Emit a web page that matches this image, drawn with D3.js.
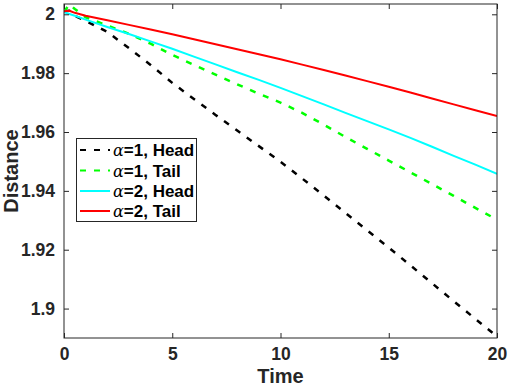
<!DOCTYPE html>
<html>
<head>
<meta charset="utf-8">
<script src="https://cdn.jsdelivr.net/npm/d3@7"></script>
<style>
  html, body { margin: 0; padding: 0; background: #fff; }
  svg { display: block; }
</style>
</head>
<body>
<svg id="chart" width="509" height="389"></svg>
<script>
// ---- data ----
const time = [0, 0.25, 0.5, 1, 2, 3, 4, 5, 6, 7, 8, 9, 10, 11, 12, 13, 14, 15, 16, 17, 18, 19, 20];
const headAlpha1 = [2.0010, 2.0012, 1.9995, 1.9978, 1.9940, 1.9885, 1.9828, 1.9767, 1.9712, 1.9658, 1.9605, 1.9552, 1.9499, 1.9442, 1.9384, 1.9325, 1.9266, 1.9207, 1.9147, 1.9086, 1.9025, 1.8965, 1.8905];
const tailAlpha1 = [2.0008, 2.0034, 2.0018, 1.9990, 1.9962, 1.9934, 1.9900, 1.9862, 1.9828, 1.9795, 1.9762, 1.9730, 1.9700, 1.9665, 1.9625, 1.9583, 1.9543, 1.9503, 1.9463, 1.9423, 1.9383, 1.9342, 1.9302];
const headAlpha2 = [2.0007, 2.0001, 1.9995, 1.9982, 1.9957, 1.9933, 1.9908, 1.9883, 1.9856, 1.9830, 1.9803, 1.9777, 1.9750, 1.9722, 1.9694, 1.9665, 1.9637, 1.9609, 1.9580, 1.9550, 1.9519, 1.9489, 1.9458];
const tailAlpha2 = [2.0010, 2.0012, 2.0005, 1.9995, 1.9980, 1.9964, 1.9948, 1.9932, 1.9915, 1.9898, 1.9881, 1.9864, 1.9847, 1.9829, 1.9811, 1.9792, 1.9773, 1.9754, 1.9734, 1.9714, 1.9694, 1.9674, 1.9654];
const xTicks = [0, 5, 10, 15, 20];
const yTicks = [1.9, 1.92, 1.94, 1.96, 1.98, 2];
const seriesNames = ["=1, Head", "=1, Tail", "=2, Head", "=2, Tail"];
const seriesColors = ["#000000", "#00ff00", "#00ffff", "#ff0000"];
const seriesDash = ["6,8", "6,8", null, null];
const seriesWidth = [2.5, 2.5, 2, 2];

// ---- layout ----
const svg = d3.select("#chart");
const L = 64, R = 497, T = 4, B = 338;
const x = d3.scaleLinear().domain([0, 20]).range([L, R]);
const y = d3.scaleLinear().domain([1.89, 2.0035]).range([B, T]);
const font = "'Liberation Sans', Arial, Helvetica, sans-serif";

const seriesData = [headAlpha1, tailAlpha1, headAlpha2, tailAlpha2];

svg.append("clipPath").attr("id", "clip").append("rect")
  .attr("x", L).attr("y", T).attr("width", R - L).attr("height", B - T);

const line = d3.line().x(d => x(d[0])).y(d => y(d[1]));
const plot = svg.append("g").attr("clip-path", "url(#clip)");
seriesData.forEach((vals, i) => {
  plot.append("path")
    .datum(time.map((t, k) => [t, vals[k]]))
    .attr("d", line)
    .attr("fill", "none")
    .attr("stroke", seriesColors[i])
    .attr("stroke-width", seriesWidth[i])
    .attr("stroke-dasharray", seriesDash[i])
    .attr("stroke-linejoin", "round");
});

// axes (ticks inward, box)
const tickLen = 5;
const axB = d3.axisBottom(x).tickValues(xTicks).tickSize(-tickLen).tickPadding(10).tickFormat(d3.format("d"));
const axT = d3.axisTop(x).tickValues(xTicks).tickSize(-tickLen).tickFormat("");
const axL = d3.axisLeft(y).tickValues(yTicks).tickSize(-tickLen).tickPadding(9).tickFormat(d => String(+d.toFixed(2)));
const axR = d3.axisRight(y).tickValues(yTicks).tickSize(-tickLen).tickFormat("");

function styleAxis(g) {
  g.select(".domain").remove();
  g.selectAll(".tick line").attr("stroke", "#262626").attr("stroke-width", 1);
  g.selectAll(".tick text").attr("fill", "#262626")
    .style("font-family", font).style("font-weight", "bold").style("font-size", "17.5px");
}
svg.append("g").attr("transform", `translate(0,${B})`).call(axB).call(styleAxis);
svg.append("g").attr("transform", `translate(0,${T})`).call(axT).call(styleAxis);
svg.append("g").attr("transform", `translate(${L},0)`).call(axL).call(styleAxis);
svg.append("g").attr("transform", `translate(${R},0)`).call(axR).call(styleAxis);
svg.append("rect").attr("x", L).attr("y", T).attr("width", R - L).attr("height", B - T)
  .attr("fill", "none").attr("stroke", "#262626").attr("stroke-width", 1);

// axis labels
svg.append("text").attr("x", (L + R) / 2).attr("y", 383)
  .attr("text-anchor", "middle").attr("fill", "#262626")
  .style("font-family", font).style("font-weight", "bold").style("font-size", "20px")
  .text("Time");
svg.append("text").attr("transform", `translate(18,${(T + B) / 2}) rotate(-90)`)
  .attr("text-anchor", "middle").attr("fill", "#262626")
  .style("font-family", font).style("font-weight", "bold").style("font-size", "20px")
  .text("Distance");

// legend
const lg = svg.append("g");
lg.append("rect").attr("x", 76.5).attr("y", 138.5).attr("width", 120).attr("height", 83)
  .attr("fill", "#fff").attr("stroke", "#262626").attr("stroke-width", 1);
const rowY = [150, 170.5, 191, 211];
seriesNames.forEach((name, i) => {
  lg.append("line").attr("x1", 80).attr("x2", 110).attr("y1", rowY[i]).attr("y2", rowY[i])
    .attr("stroke", seriesColors[i]).attr("stroke-width", 2).attr("stroke-dasharray", seriesDash[i]);
  const t = lg.append("text").attr("x", 113).attr("y", rowY[i] + 6).attr("fill", "#000")
    .style("font-family", font).style("font-size", "17px");
  t.append("tspan").style("font-style", "italic").style("font-family", "'DejaVu Serif', serif")
    .style("font-size", "16px").text("α");
  t.append("tspan").style("font-weight", "bold").text(name);
});
</script>
</body>
</html>
